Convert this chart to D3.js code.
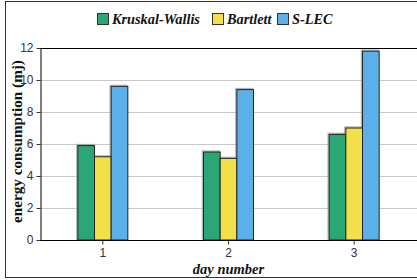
<!DOCTYPE html>
<html>
<head>
<meta charset="utf-8">
<script src="https://cdnjs.cloudflare.com/ajax/libs/d3/7.8.5/d3.min.js"></script>
<style>
  body { margin: 0; background: #fff; }
  svg { display: block; }
  .serif { font-family: "Liberation Serif", "Times New Roman", serif; }
  .sans { font-family: "Liberation Sans", Arial, sans-serif; }
</style>
</head>
<body>
<script>
// chart data
var days = ["1", "2", "3"];
var seriesNames = ["Kruskal-Wallis", "Bartlett", "S-LEC"];
var kruskal = [5.9, 5.5, 6.6];
var bartlett = [5.2, 5.1, 7.0];
var slec = [9.6, 9.4, 11.8];
var yTicks = [0, 2, 4, 6, 8, 10, 12];

var colors = ["#2ba676", "#f2e04a", "#5cb0ea"];
var series = [kruskal, bartlett, slec];

var width = 417, height = 280;
var margin = {left: 40, top: 48, right: 0, bottom: 40};

var svg = d3.select("body").append("svg")
    .attr("width", width)
    .attr("height", height);

// outer frame (right side runs off the picture)
svg.append("rect")
    .attr("x", 5.5).attr("y", 1.5)
    .attr("width", 430).attr("height", 276)
    .attr("fill", "none")
    .attr("stroke", "#333");

var x = d3.scaleBand()
    .domain(days)
    .range([margin.left, width - margin.right]);

var xInner = d3.scaleBand()
    .domain(seriesNames)
    .range([0, 50]);

var y = d3.scaleLinear()
    .domain([0, 12])
    .range([height - margin.bottom, margin.top]);

// gridlines
svg.append("g")
    .selectAll("line")
    .data(yTicks.filter(d => d > 0 && d < 12))
    .enter()
    .append("line")
    .attr("x1", margin.left)
    .attr("x2", width)
    .attr("y1", d => Math.round(y(d)) + 0.5)
    .attr("y2", d => Math.round(y(d)) + 0.5)
    .attr("stroke", "#c8c8c8");

// top frame line
svg.append("line")
    .attr("x1", margin.left).attr("x2", width)
    .attr("y1", y(12) + 0.5).attr("y2", y(12) + 0.5)
    .attr("stroke", "#000");

// bars
var groups = svg.append("g")
    .selectAll("g")
    .data(days)
    .enter()
    .append("g")
    .attr("transform", d => "translate(" + (x(d) + x.bandwidth() / 2 - 25) + ",0)");

groups.selectAll("rect.shadow")
    .data((d, i) => seriesNames.map((s, j) => ({s: s, v: series[j][i], c: colors[j]})))
    .enter()
    .append("rect")
    .attr("class", "shadow")
    .attr("x", d => xInner(d.s) - 1)
    .attr("y", d => y(d.v) - 1)
    .attr("width", xInner.bandwidth())
    .attr("height", d => y(0) - y(d.v))
    .attr("fill", "none")
    .attr("stroke", "#999")
    .attr("stroke-width", 1.5)
    .attr("opacity", 0.7);

groups.selectAll("rect.bar")
    .data((d, i) => seriesNames.map((s, j) => ({s: s, v: series[j][i], c: colors[j]})))
    .enter()
    .append("rect")
    .attr("class", "bar")
    .attr("x", d => xInner(d.s))
    .attr("y", d => y(d.v))
    .attr("width", xInner.bandwidth())
    .attr("height", d => y(0) - y(d.v))
    .attr("fill", d => d.c)
    .attr("stroke", "#222")
    .attr("stroke-width", 1);

// axes
var xAxis = svg.append("g")
    .attr("transform", "translate(0," + (y(0) + 0.5) + ")")
    .call(d3.axisBottom(x).tickSize(4).tickSizeOuter(0));
xAxis.attr("font-family", null);
xAxis.select(".domain").attr("stroke", "#000").attr("d", "M" + margin.left + ",0H" + width);
xAxis.selectAll(".tick line").attr("stroke", "#333");
xAxis.selectAll("text")
    .attr("class", "sans")
    .attr("font-size", "12px")
    .attr("fill", "#333")
    .attr("dy", "0.8em");

var yAxis = svg.append("g")
    .attr("transform", "translate(" + (margin.left + 0.5) + ",0)")
    .call(d3.axisLeft(y).tickValues(yTicks).tickSize(4).tickSizeOuter(0));
yAxis.attr("font-family", null);
yAxis.select(".domain").attr("stroke", "#000");
yAxis.selectAll(".tick line").attr("stroke", "#333");
yAxis.selectAll("text")
    .attr("class", "sans")
    .attr("font-size", "12px")
    .attr("fill", "#333");

// axis titles
var yTitle = svg.append("text")
    .attr("class", "serif")
    .attr("transform", "translate(22,141.5) rotate(-90)")
    .attr("text-anchor", "middle")
    .attr("font-weight", "bold")
    .attr("font-size", "13px")
    .attr("fill", "#111")
    .text("energy consumption (mj)");
// fit the title to the length it has in the reference
var len = yTitle.node().getComputedTextLength();
yTitle.attr("font-size", (13 * 163 / len) + "px");

svg.append("text")
    .attr("class", "serif")
    .attr("x", x("2") + x.bandwidth() / 2)
    .attr("y", 273.5)
    .attr("text-anchor", "middle")
    .attr("font-weight", "bold")
    .attr("font-style", "italic")
    .attr("font-size", "14.5px")
    .attr("fill", "#111")
    .text("day number");

// legend
var legendX = [97, 212, 277];
var legend = svg.append("g")
    .selectAll("g")
    .data(seriesNames)
    .enter()
    .append("g")
    .attr("transform", (d, i) => "translate(" + legendX[i] + ",13)");

legend.append("rect")
    .attr("x", 0.5).attr("y", 0.5)
    .attr("width", 11).attr("height", 11)
    .attr("fill", (d, i) => colors[i])
    .attr("stroke", "#333");

legend.append("text")
    .attr("class", "serif")
    .attr("x", 15)
    .attr("y", 11)
    .attr("font-weight", "bold")
    .attr("font-style", "italic")
    .attr("font-size", "14.3px")
    .attr("fill", "#111")
    .text(d => d);
</script>
</body>
</html>
